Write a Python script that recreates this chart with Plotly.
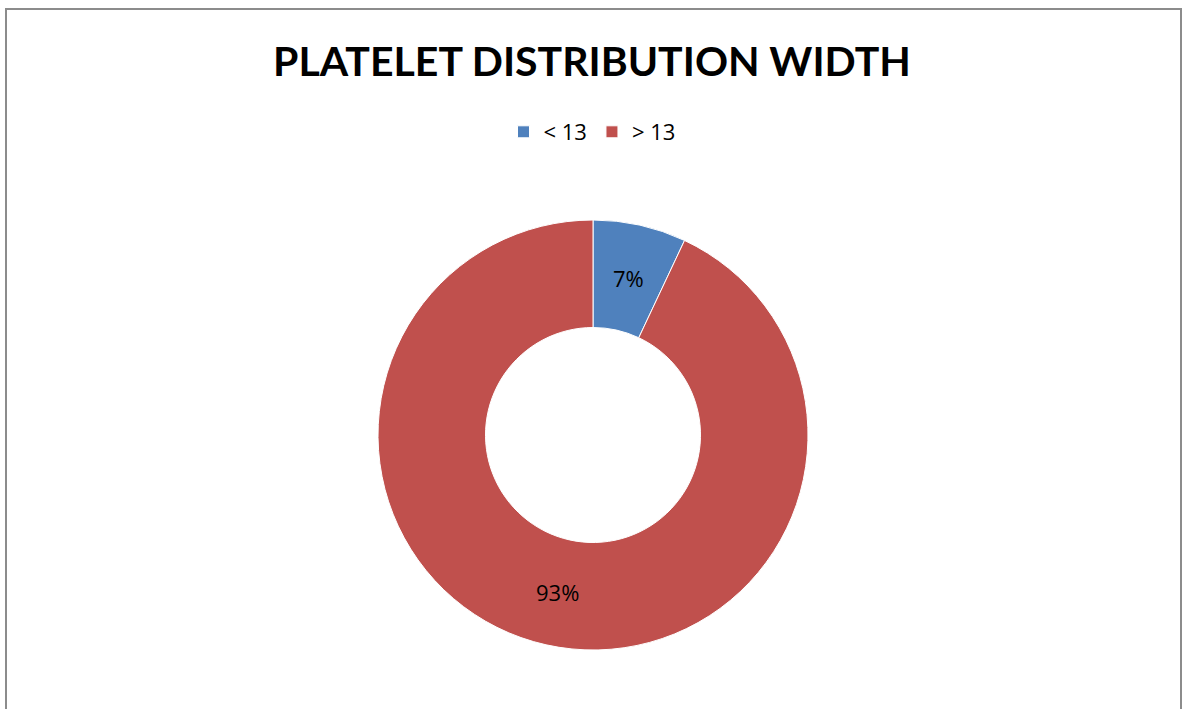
import math
import plotly.graph_objects as go

# Platelet distribution width groups and their share of patients (%)
categories = ["< 13", "> 13"]
shares = [7, 93]
slice_colors = ["#4F81BD", "#C0504D"]

W, H = 1184, 709
cx, cy, r = 593, 435, 215
hole = 0.5

fig = go.Figure(
    go.Pie(
        labels=categories,
        values=shares,
        hole=hole,
        sort=False,
        direction="clockwise",
        rotation=0,
        marker=dict(colors=slice_colors, line=dict(color="white", width=1)),
        textinfo="none",
        hoverinfo="label+percent",
        domain=dict(
            x=[(cx - r) / W, (cx + r) / W],
            y=[1 - (cy + r) / H, 1 - (cy - r) / H],
        ),
    )
)

# Percentage labels centred in each ring segment, at the slice's mid-angle
total = sum(shares)
start = 0.0
mid_r = r * (1 + hole) / 2
for v in shares:
    ang = 2 * math.pi * (start + v / 2) / total
    start += v
    px = cx + mid_r * math.sin(ang)
    py = cy - mid_r * math.cos(ang)
    fig.add_annotation(
        x=px / W,
        y=1 - py / H,
        xref="paper",
        yref="paper",
        text=f"{v}%",
        showarrow=False,
        xanchor="center",
        yanchor="middle",
        font=dict(family="Open Sans, Liberation Sans, sans-serif", size=22, color="black"),
    )

fig.update_layout(
    width=W,
    height=H,
    margin=dict(l=0, r=0, t=0, b=0),
    paper_bgcolor="white",
    plot_bgcolor="white",
    title=dict(
        text="<b>PLATELET DISTRIBUTION WIDTH</b>",
        x=0.5,
        xanchor="center",
        y=1 - 62 / H,
        yanchor="middle",
        font=dict(family="Lato, Liberation Sans, sans-serif", size=41, color="black"),
    ),
    legend=dict(
        orientation="h",
        x=0.5,
        xanchor="center",
        y=1 - 132 / H,
        yanchor="middle",
        font=dict(family="Open Sans, Liberation Sans, sans-serif", size=22, color="black"),
        itemclick=False,
    ),
    shapes=[
        dict(
            type="rect",
            xref="paper",
            yref="paper",
            x0=6 / W,
            x1=1181 / W,
            y0=-0.05,
            y1=1 - 9 / H,
            line=dict(color="#8C8C8C", width=2),
            fillcolor="rgba(0,0,0,0)",
        )
    ],
)

fig.write_html("out.html")
